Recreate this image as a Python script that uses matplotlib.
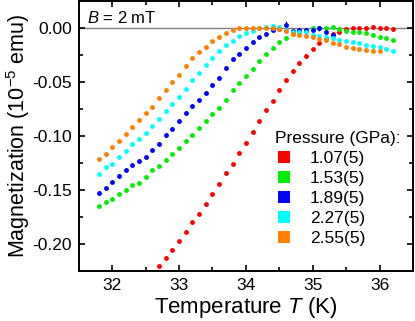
import numpy as np
import matplotlib
matplotlib.use("Agg")
import matplotlib.pyplot as plt
from matplotlib.lines import Line2D

plt.rcParams['font.family'] = ['Liberation Sans', 'DejaVu Sans']
plt.rcParams['mathtext.fontset'] = 'custom'
plt.rcParams['mathtext.rm'] = 'Liberation Sans'
plt.rcParams['mathtext.it'] = 'Liberation Sans:italic'
plt.rcParams['axes.unicode_minus'] = False

# ---------------- data ----------------
labels = ["1.07(5)", "1.53(5)", "1.89(5)", "2.27(5)", "2.55(5)"]
colors = ["#ff0000", "#00ee00", "#0000ff", "#00ffff", "#ff8000"]

T_red = np.round(np.arange(32.7, 36.21, 0.1), 2)
M_red = [-0.2212, -0.2129, -0.2055, -0.1979, -0.1891, -0.1803, -0.1723, -0.1637,
         -0.1545, -0.1444, -0.1349, -0.1259, -0.1161, -0.1066, -0.0964, -0.0866,
         -0.0764, -0.0675, -0.0577, -0.0484, -0.0399, -0.0330, -0.0262, -0.0195,
         -0.0141, -0.0100, -0.0060, -0.0036, -0.0015, -0.0007, -0.0005, 0.0000,
         0.0005, 0.0000, -0.0005, -0.0012]

T_green = np.round(np.arange(31.8, 36.21, 0.1), 2)
M_green = [-0.1653, -0.1616, -0.1591, -0.1542, -0.1508, -0.1456, -0.1435, -0.1386,
           -0.1321, -0.1284, -0.1229, -0.1170, -0.1112, -0.1050, -0.0998, -0.0930,
           -0.0863, -0.0804, -0.0740, -0.0669, -0.0579, -0.0515, -0.0450, -0.0383,
           -0.0312, -0.0242, -0.0190, -0.0134, -0.0095, -0.0063, -0.0040, -0.0020,
           0.0000, 0.0000, 0.0000, 0.0007, -0.0014, -0.0030, -0.0040, -0.0045,
           -0.0050, -0.0065, -0.0086, -0.0095, -0.0113]

T_blue = np.round(np.arange(31.8, 35.31, 0.1), 2)
M_blue = [-0.1530, -0.1484, -0.1428, -0.1373, -0.1317, -0.1271, -0.1232, -0.1195,
          -0.1133, -0.1075, -0.0994, -0.0936, -0.0863, -0.0790, -0.0725, -0.0672,
          -0.0601, -0.0533, -0.0463, -0.0370, -0.0286, -0.0240, -0.0192, -0.0137,
          -0.0085, -0.0060, -0.0025, -0.0008, 0.0023, -0.0035, -0.0022, -0.0022,
          -0.0020, -0.0007, -0.0040, -0.0064]

T_cyan = np.round(np.arange(31.8, 36.21, 0.1), 2)
M_cyan = [-0.1358, -0.1293, -0.1262, -0.1195, -0.1146, -0.1081, -0.1031, -0.0973,
          -0.0909, -0.0850, -0.0770, -0.0706, -0.0638, -0.0570, -0.0489, -0.0417,
          -0.0349, -0.0284, -0.0217, -0.0164, -0.0124, -0.0082, -0.0046, -0.0028,
          -0.0007, 0.0003, 0.0015, 0.0008, -0.0020, -0.0044, -0.0042, -0.0045,
          -0.0065, -0.0078, -0.0088, -0.0100, -0.0110, -0.0125, -0.0134, -0.0140,
          -0.0158, -0.0172, -0.0180, -0.0196, -0.0212]

T_orange = np.round(np.arange(31.8, 36.01, 0.1), 2)
M_orange = [-0.1220, -0.1170, -0.1105, -0.1047, -0.0989, -0.0921, -0.0856, -0.0795,
            -0.0731, -0.0653, -0.0577, -0.0503, -0.0435, -0.0358, -0.0284, -0.0229,
            -0.0175, -0.0127, -0.0090, -0.0053, -0.0020, -0.0007, -0.0005, -0.0005,
            0.0000, 0.0000, -0.0005, -0.0010, -0.0032, -0.0060, -0.0070, -0.0074,
            -0.0090, -0.0105, -0.0117, -0.0146, -0.0155, -0.0177, -0.0185, -0.0195,
            -0.0208, -0.0217, -0.0220]

err_default = 0.0015
blue_err_special = {34.6: 0.0040, 35.1: 0.0025}

series = [
    (T_red, M_red), (T_green, M_green), (T_blue, M_blue),
    (T_cyan, M_cyan), (T_orange, M_orange),
]

# ---------------- figure ----------------
fig = plt.figure(figsize=(4.15, 3.21), dpi=100)
ax = fig.add_axes([0.190, 0.157, 0.805, 0.841])

ax.axhline(0, color="#808080", lw=1.0, zorder=1)

for i, ((T, M), c) in enumerate(zip(series, colors)):
    err = np.full(len(T), err_default)
    if i == 2:
        for tv, ev in blue_err_special.items():
            err[np.isclose(T, tv)] = ev
    ax.errorbar(T, M, yerr=err, fmt='o', color=c, ms=3.5, mew=0,
                elinewidth=0.8, capsize=1.5, capthick=0.8, zorder=2 + i)

ax.set_xlim(31.75, 36.24)
ax.set_ylim(-0.2245, 0.025)
ax.set_xticks([32, 33, 34, 35, 36])
ax.set_xticks(np.arange(31.5, 36.6, 0.5), minor=True)
ax.set_yticks([0.0, -0.05, -0.10, -0.15, -0.20])
ax.set_yticks(np.arange(-0.225, 0.026, 0.025), minor=True)
ax.set_yticklabels(["0.00", "-0.05", "-0.10", "-0.15", "-0.20"])

ax.tick_params(which='both', direction='in', top=True, right=True,
               labelsize=12.5, width=1.2, pad=5)
ax.tick_params(which='major', length=4.5)
ax.tick_params(which='minor', length=3)
for s in ax.spines.values():
    s.set_linewidth(1.4)

ax.set_xlabel("Temperature $\\mathit{T}$ (K)", fontsize=16, labelpad=2)
ax.set_ylabel("Magnetization (10$^{\\mathregular{-5}}$ emu)", fontsize=15.5, labelpad=0)

ax.text(0.025, 0.965, "$\\mathit{B}$ = 2 mT", transform=ax.transAxes,
        fontsize=12, ha='left', va='top')

handles = [Line2D([], [], ls='none', marker='s', ms=8.6, mew=0, color=c) for c in colors]
leg = ax.legend(handles, labels, title="Pressure (GPa):", frameon=False,
                loc='upper left', bbox_to_anchor=(0.663, 0.592),
                bbox_transform=fig.transFigure, fontsize=12.5, title_fontsize=12.5,
                handlelength=1.0, handletextpad=1.0, labelspacing=0.28,
                borderpad=0, borderaxespad=0, alignment='left')

fig.savefig("out.png", dpi=100)
